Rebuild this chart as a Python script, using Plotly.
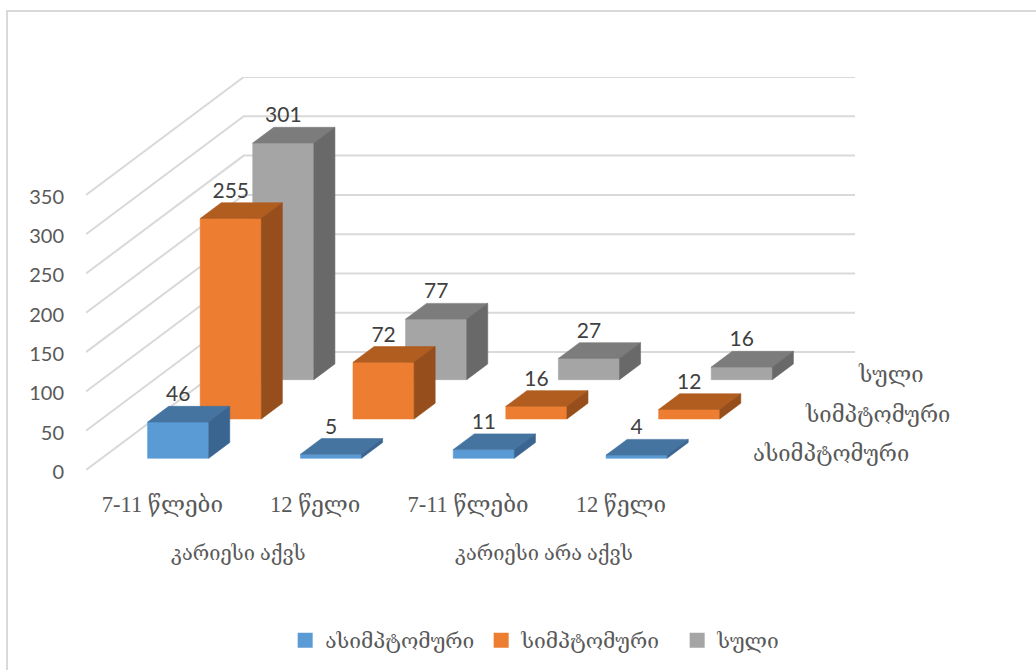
import plotly.graph_objects as go

# Chart values
categories = ["7-11 წლები", "12 წელი", "7-11 წლები", "12 წელი"]
groups = ["კარიესი აქვს", "კარიესი არა აქვს"]
series_names = ["ასიმპტომური", "სიმპტომური", "სული"]
asymptomatic = [46, 5, 11, 4]
symptomatic = [255, 72, 16, 12]
total = [301, 77, 27, 16]
y_ticks = [0, 50, 100, 150, 200, 250, 300, 350]

series_values = [asymptomatic, symptomatic, total]
front_colors = ["#5B9BD5", "#ED7D31", "#A5A5A5"]
top_colors = ["#44749F", "#B15D20", "#7C7C7C"]
side_colors = ["#3A6590", "#964F1C", "#696969"]

GRID = "#D9D9D9"
TICK_TEXT = "#595959"
LABEL_TEXT = "#404040"
SERIF = "Liberation Serif, DejaVu Serif, DejaVu Sans, serif"
SANS = "Lato, Carlito, sans-serif"

# Oblique projection of the depth axis onto the 2D axes: one series slot
# moves a point this far along x (categories) and y (value units).
DEPTH_X = 0.344
DEPTH_Y = 50
BAR_GAP = 0.3     # gap on each side of a bar, as a share of its slot
BAR_SIZE = 0.4    # bar width and depth, as a share of its slot
LABEL_LIFT = 13   # value-label centre above the back edge of a bar top
TICK_NUDGE = 2.5  # lowers the value-axis text slightly against its gridline
N_CAT = len(categories)
N_SER = len(series_names)

LEFT, RIGHT, TOP, BOTTOM = 86, 855, 77, 472
WIDTH, HEIGHT = 1036, 670


def project(cat, depth, value):
    return cat + depth * DEPTH_X, value + depth * DEPTH_Y


def polygon(points):
    xs, ys = zip(*points)
    return list(xs) + [xs[0], None], list(ys) + [ys[0], None]


def face_trace(xs, ys, color):
    return go.Scatter(
        x=xs, y=ys, mode="lines", fill="toself", fillcolor=color,
        line=dict(color=color, width=0.6), hoverinfo="skip", showlegend=False,
    )


fig = go.Figure()

# Wall gridlines: up the left wall from the front edge, then along the back wall
grid_x, grid_y = [], []
for v in y_ticks:
    for cat, depth in [(0, 0), (0, N_SER), (N_CAT, N_SER)]:
        px, py = project(cat, depth, v)
        grid_x.append(px)
        grid_y.append(py)
    grid_x.append(None)
    grid_y.append(None)
fig.add_trace(go.Scatter(
    x=grid_x, y=grid_y, mode="lines", line=dict(color=GRID, width=2),
    hoverinfo="skip", showlegend=False, cliponaxis=False,
))

# Bars, back series first so nearer ones overlap them
for s in reversed(range(N_SER)):
    front, top, side = ([], []), ([], []), ([], [])
    d0, d1 = s + BAR_GAP, s + BAR_GAP + BAR_SIZE
    for c, v in enumerate(series_values[s]):
        c0, c1 = c + BAR_GAP, c + BAR_GAP + BAR_SIZE
        faces = [
            (front, [project(c0, d0, 0), project(c1, d0, 0), project(c1, d0, v), project(c0, d0, v)]),
            (top, [project(c0, d0, v), project(c1, d0, v), project(c1, d1, v), project(c0, d1, v)]),
            (side, [project(c1, d0, 0), project(c1, d1, 0), project(c1, d1, v), project(c1, d0, v)]),
        ]
        for bucket, pts in faces:
            xs, ys = polygon(pts)
            bucket[0].extend(xs)
            bucket[1].extend(ys)
    fig.add_trace(face_trace(*front, front_colors[s]))
    fig.add_trace(face_trace(*top, top_colors[s]))
    fig.add_trace(face_trace(*side, side_colors[s]))

# Value labels above each bar
for s in reversed(range(N_SER)):
    label_x, label_y = [], []
    for c, v in enumerate(series_values[s]):
        px, _ = project(c + 0.5, s + BAR_GAP, v)
        _, back_y = project(c + 0.5, s + BAR_GAP + BAR_SIZE, v)
        label_x.append(px)
        label_y.append(back_y + LABEL_LIFT)
    fig.add_trace(go.Scatter(
        x=label_x, y=label_y, mode="text", text=[str(v) for v in series_values[s]],
        textposition="middle center", textfont=dict(family=SANS, size=21, color=LABEL_TEXT),
        hoverinfo="skip", showlegend=False, cliponaxis=False,
    ))

# Legend entries
for s in range(N_SER):
    fig.add_trace(go.Scatter(
        x=[None], y=[None], mode="markers", name=series_names[s],
        marker=dict(symbol="square", size=15, color=front_colors[s]),
    ))

annotations = []
# Group labels under the category labels
for i, g in enumerate(groups):
    annotations.append(dict(
        x=1 + 2 * i, y=0, xref="x", yref="y", text=g, showarrow=False, yshift=-83,
        font=dict(family=SERIF, size=20, color=TICK_TEXT),
    ))
# Series names along the depth axis
for s in range(N_SER):
    px, py = project(N_CAT, s + 0.5, 0)
    annotations.append(dict(
        x=px, y=py, xref="x", yref="y", text=series_names[s], showarrow=False,
        xanchor="left", xshift=27, yshift=-3,
        font=dict(family=SERIF, size=22, color=TICK_TEXT),
    ))

plot_w = RIGHT - LEFT
plot_h = BOTTOM - TOP
fig.update_layout(
    width=WIDTH, height=HEIGHT,
    margin=dict(l=LEFT, r=WIDTH - RIGHT, t=TOP, b=HEIGHT - BOTTOM, autoexpand=False),
    paper_bgcolor="white", plot_bgcolor="white",
    showlegend=True,
    legend=dict(
        orientation="h", x=0.259, y=-0.375, xanchor="left", yanchor="top",
        font=dict(family=SERIF, size=21, color=TICK_TEXT),
        bgcolor="rgba(0,0,0,0)", entrywidth=151, entrywidthmode="pixels",
    ),
    xaxis=dict(
        range=[0, N_CAT + N_SER * DEPTH_X], showgrid=False, zeroline=False, showline=False,
        tickmode="array", tickvals=[c + 0.5 for c in range(N_CAT)], ticktext=categories,
        ticks="", ticklabelstandoff=16,
        tickfont=dict(family=SERIF, size=22.5, color=TICK_TEXT),
    ),
    yaxis=dict(
        range=[-TICK_NUDGE, 500], showgrid=False, zeroline=False, showline=False,
        tickmode="array", tickvals=[v - TICK_NUDGE for v in y_ticks],
        ticktext=[str(v) for v in y_ticks], ticks="", ticklabelstandoff=21,
        tickfont=dict(family=SANS, size=20, color=TICK_TEXT),
    ),
    annotations=annotations,
    shapes=[dict(
        type="path", xref="paper", yref="paper", layer="below",
        path="M {0} {1} L {0} {2} L {3} {2}".format(
            (7 - LEFT) / plot_w, (BOTTOM - HEIGHT - 2) / plot_h,
            (BOTTOM - 11) / plot_h, (WIDTH + 2 - LEFT) / plot_w),
        line=dict(color=GRID, width=2),
    )],
)

fig.write_html("out.html")
